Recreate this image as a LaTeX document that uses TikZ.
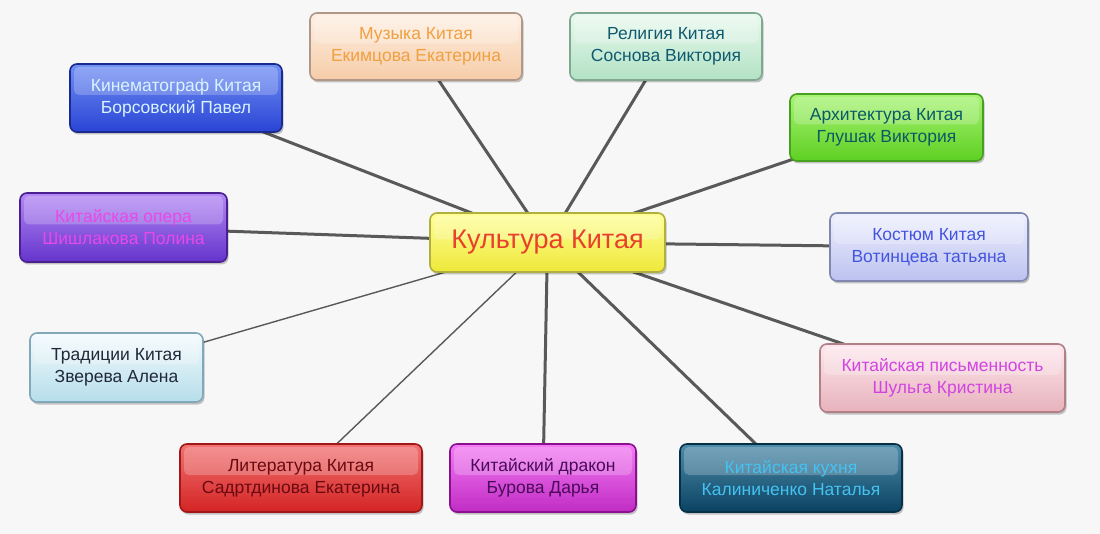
\documentclass[tikz,border=0pt]{standalone}
\usepackage{fontspec}
\setmainfont{Liberation Sans}
\usetikzlibrary{shadows,backgrounds,calc}
\definecolor{cT}{HTML}{FFFF98}\definecolor{cB}{HTML}{EEE83A}\definecolor{cD}{HTML}{B0B040}\definecolor{cX}{HTML}{E8402C}
\definecolor{kT}{HTML}{7090F4}\definecolor{kB}{HTML}{2A44D4}\definecolor{kD}{HTML}{1A2A90}\definecolor{kX}{HTML}{D8F4FF}
\definecolor{mT}{HTML}{FEF0E4}\definecolor{mB}{HTML}{F6CCA8}\definecolor{mD}{HTML}{B09888}\definecolor{mX}{HTML}{F0A040}
\definecolor{rT}{HTML}{EAF9EF}\definecolor{rB}{HTML}{B2E2C4}\definecolor{rD}{HTML}{80A890}\definecolor{rX}{HTML}{105A70}
\definecolor{aT}{HTML}{A8F474}\definecolor{aB}{HTML}{5ED022}\definecolor{aD}{HTML}{48A020}\definecolor{aX}{HTML}{0A5A66}
\definecolor{oT}{HTML}{B488F4}\definecolor{oB}{HTML}{6434CC}\definecolor{oD}{HTML}{4A2090}\definecolor{oX}{HTML}{E848E8}
\definecolor{sT}{HTML}{EEF0FE}\definecolor{sB}{HTML}{BCC2F0}\definecolor{sD}{HTML}{8088B0}\definecolor{sX}{HTML}{4454E0}
\definecolor{tT}{HTML}{F4FBFE}\definecolor{tB}{HTML}{B6DEEA}\definecolor{tD}{HTML}{80A8B8}\definecolor{tX}{HTML}{202838}
\definecolor{pT}{HTML}{FDE8EE}\definecolor{pB}{HTML}{E8B2BC}\definecolor{pD}{HTML}{B08088}\definecolor{pX}{HTML}{D044E0}
\definecolor{lT}{HTML}{F27272}\definecolor{lB}{HTML}{D42424}\definecolor{lD}{HTML}{A01818}\definecolor{lX}{HTML}{6A0A10}
\definecolor{dT}{HTML}{F47CF4}\definecolor{dB}{HTML}{C02CC4}\definecolor{dD}{HTML}{8A1090}\definecolor{dX}{HTML}{4A0A5A}
\definecolor{uT}{HTML}{4E8CAA}\definecolor{uB}{HTML}{0A4262}\definecolor{uD}{HTML}{063048}\definecolor{uX}{HTML}{44C2F2}
\tikzset{
  base/.style={rounded corners=7pt, line width=1.6pt, align=center,
    font=\fontsize{17.5}{22}\selectfont, inner sep=0pt,
    drop shadow={shadow xshift=1.5pt, shadow yshift=-2.5pt, opacity=0.22, fill=black},
    path picture={\fill[white, fill opacity=0.22, rounded corners=5pt]
      ($(path picture bounding box.north west)+(4pt,-3pt)$) rectangle
      ($(path picture bounding box.east)+(-4pt,3pt)$);}},
  box/.style n args={4}{base, top color=#1, bottom color=#2, draw=#3, text=#4},
  thickline/.style={draw=black!65, line width=3pt},
  thinline/.style={draw=black!65, line width=1.4pt}
}
\begin{document}
\begin{tikzpicture}[x=1pt,y=-1pt]
\useasboundingbox (0,0) rectangle (1100,534);
\node[box={cT}{cB}{cD}{cX}, minimum width=235pt, minimum height=59pt, font=\fontsize{27}{30}\selectfont] (c) at (547.5,242.5) {Культура Китая};
\node[box={kT}{kB}{kD}{kX}, minimum width=212pt, minimum height=68pt] (kin) at (176,98) {Кинематограф Китая\\Борсовский Павел};
\node[box={mT}{mB}{mD}{mX}, minimum width=212pt, minimum height=67pt] (muz) at (416,46.5) {Музыка Китая\\Екимцова Екатерина};
\node[box={rT}{rB}{rD}{rX}, minimum width=192pt, minimum height=67pt] (rel) at (666,46.5) {Религия Китая\\Соснова Виктория};
\node[box={aT}{aB}{aD}{aX}, minimum width=193pt, minimum height=67pt] (arh) at (886.5,127.5) {Архитектура Китая\\Глушак Виктория};
\node[box={oT}{oB}{oD}{oX}, minimum width=207pt, minimum height=69pt] (op) at (123.5,227.5) {Китайская опера\\Шишлакова Полина};
\node[box={sT}{sB}{sD}{sX}, minimum width=198pt, minimum height=68pt] (kos) at (929,247) {Костюм Китая\\Вотинцева татьяна};
\node[box={tT}{tB}{tD}{tX}, minimum width=173pt, minimum height=69pt] (tra) at (116.5,367.5) {Традиции Китая\\Зверева Алена};
\node[box={pT}{pB}{pD}{pX}, minimum width=245pt, minimum height=68pt] (pis) at (942.5,378) {Китайская письменность\\Шульга Кристина};
\node[box={lT}{lB}{lD}{lX}, minimum width=242pt, minimum height=68pt] (lit) at (301,478) {Литература Китая\\Садртдинова Екатерина};
\node[box={dT}{dB}{dD}{dX}, minimum width=186pt, minimum height=68pt] (dra) at (543,478) {Китайский дракон\\Бурова Дарья};
\node[box={uT}{uB}{uD}{uX}, minimum width=222pt, minimum height=68pt] (kuh) at (791,478) {Китайская кухня\\Калиниченко Наталья};
\begin{pgfonlayer}{background}
\fill[black!3] (0,0) rectangle (1100,534);
\draw[thickline] (kin.center) -- (c.center);
\draw[thickline] (muz.center) -- (c.center);
\draw[thickline] (rel.center) -- (c.center);
\draw[thickline] (arh.center) -- (c.center);
\draw[thickline] (op.center) -- (c.center);
\draw[thickline] (kos.center) -- (c.center);
\draw[thickline] (pis.center) -- (c.center);
\draw[thickline] (kuh.center) -- (c.center);
\draw[thickline] (dra.center) -- (c.center);
\draw[thinline] (lit.center) -- (c.center);
\draw[thinline] (tra.center) -- (c.center);
\end{pgfonlayer}
\end{tikzpicture}
\end{document}
